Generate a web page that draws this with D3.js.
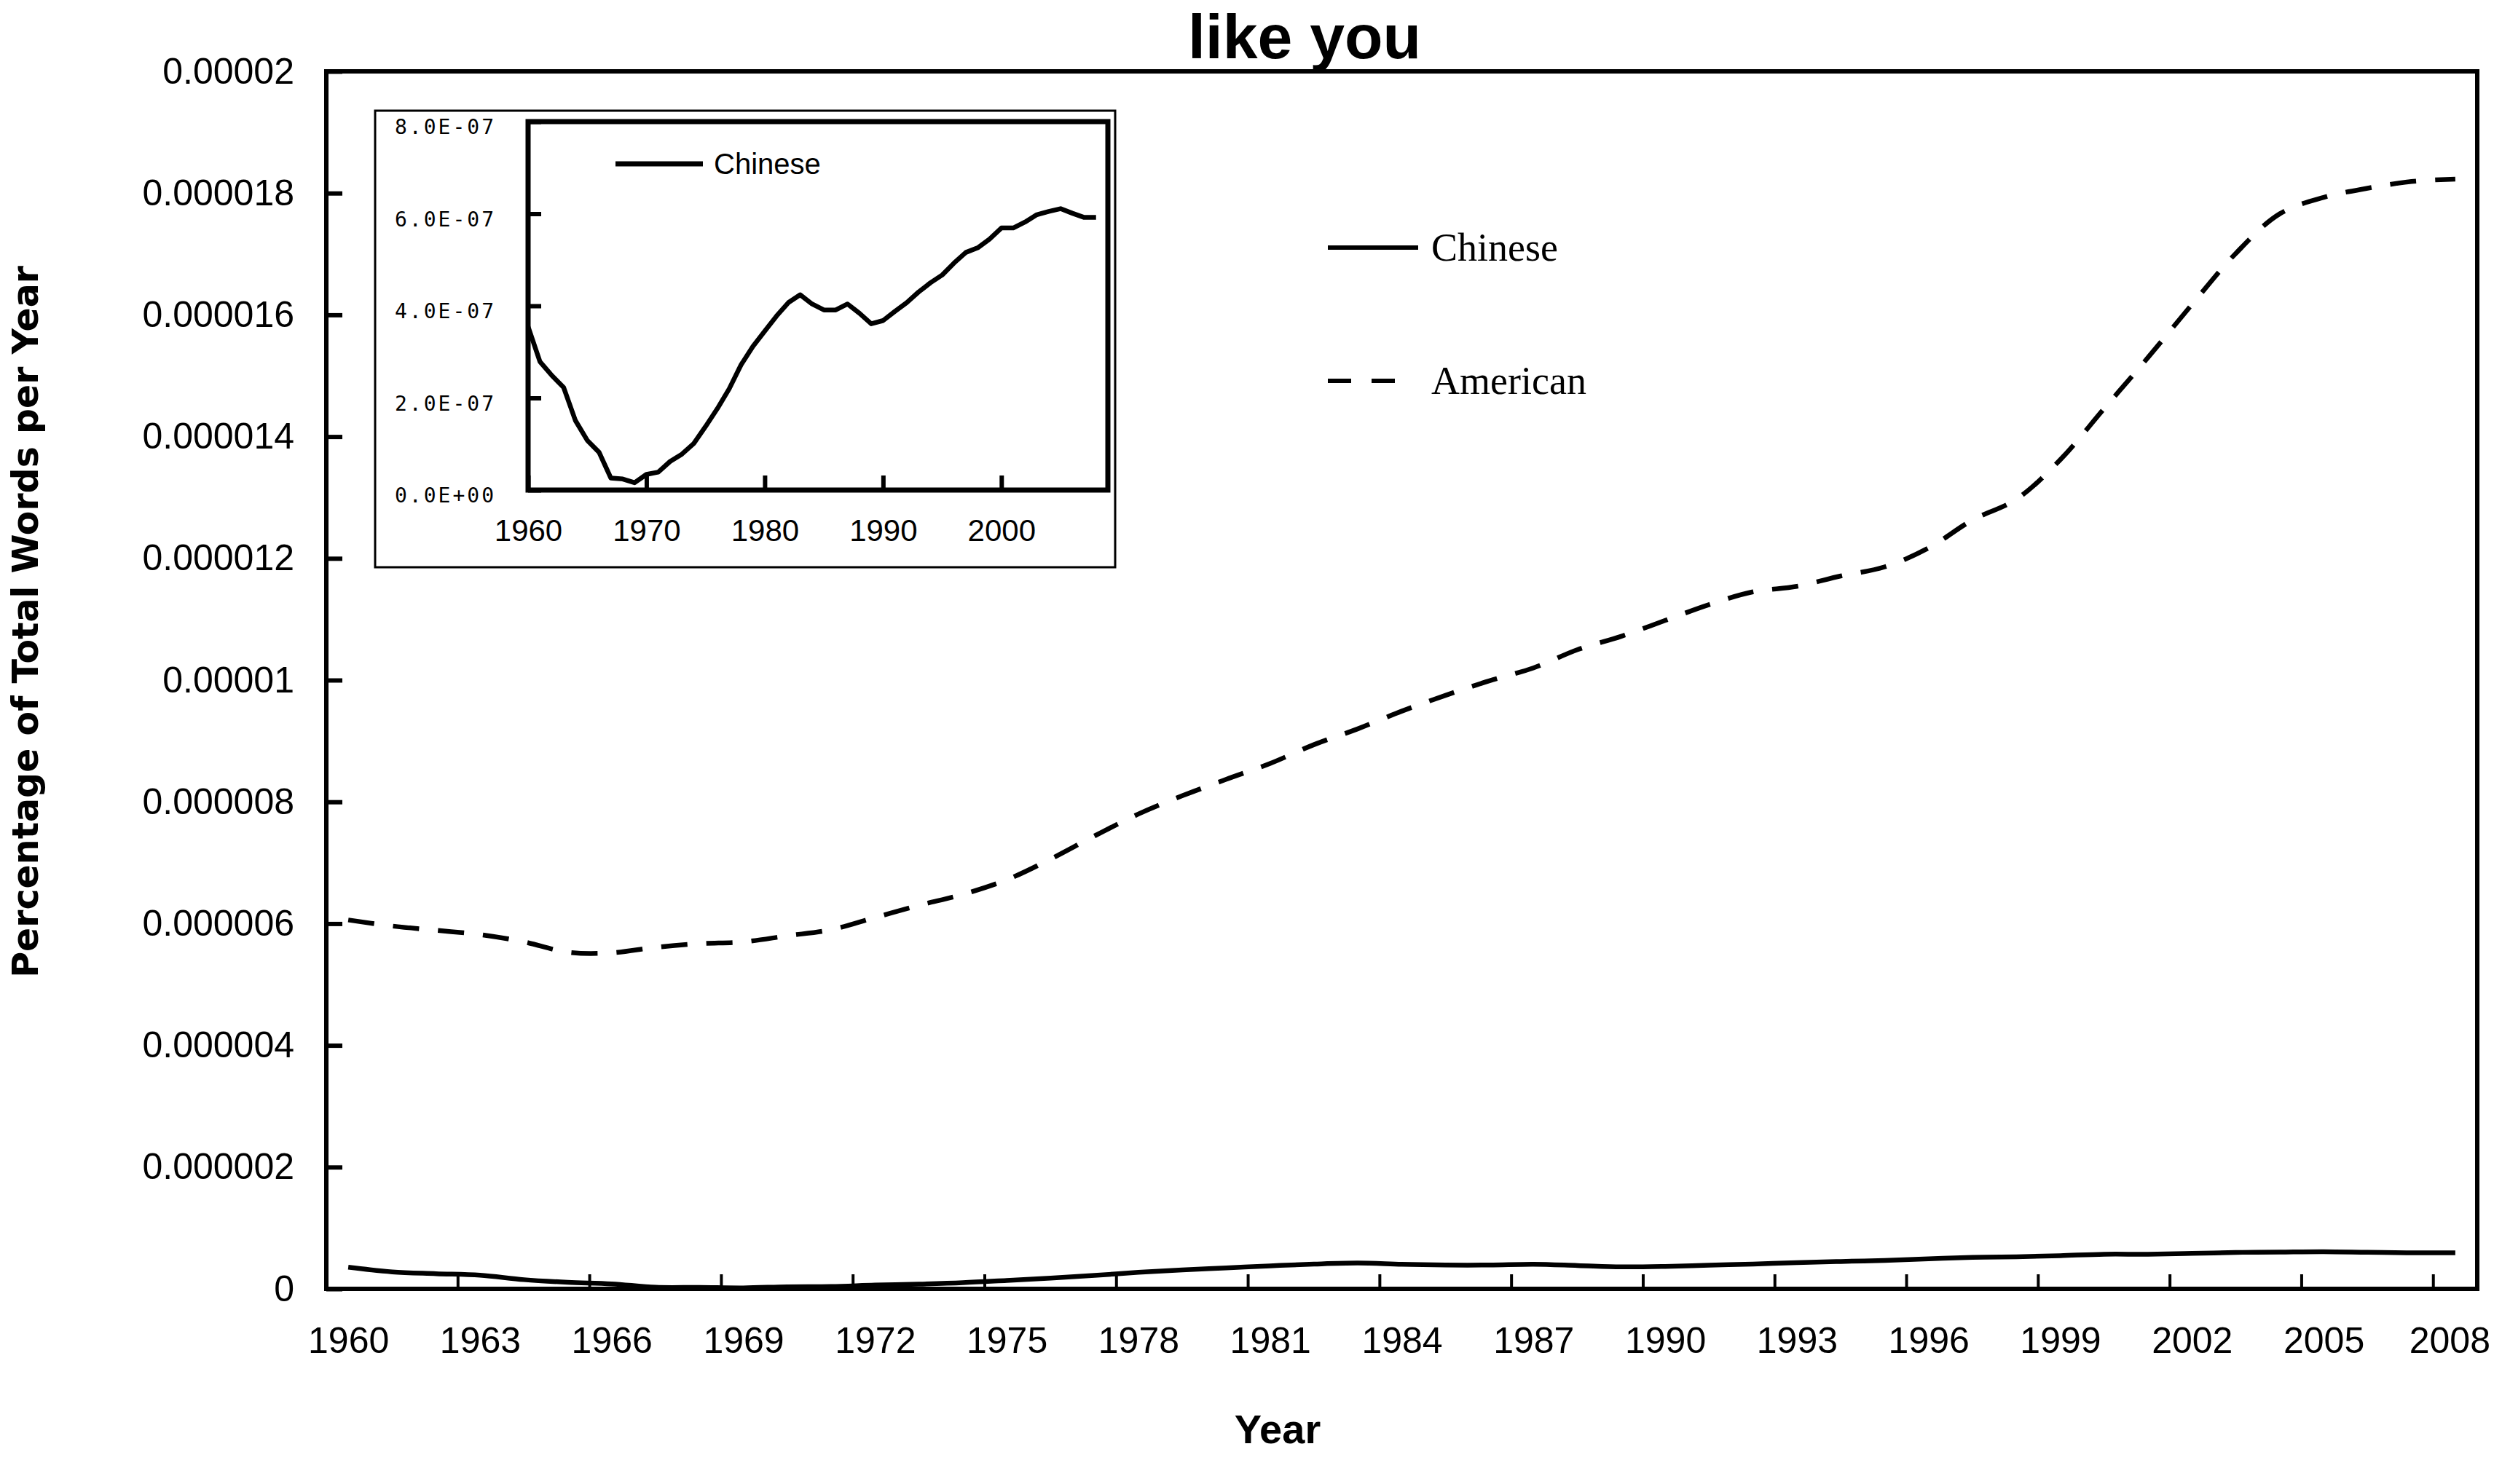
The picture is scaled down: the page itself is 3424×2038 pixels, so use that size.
<!DOCTYPE html>
<html>
<head>
<meta charset="utf-8">
<script src="https://cdn.jsdelivr.net/npm/d3@7"></script>
<style>
  html, body { margin: 0; padding: 0; background: #fff; }
  svg { display: block; }
</style>
</head>
<body>
<svg id="chart" width="3424" height="2038"></svg>
<script>
// ---------------- DATA ----------------
const years = [1960,1961,1962,1963,1964,1965,1966,1967,1968,1969,
               1970,1971,1972,1973,1974,1975,1976,1977,1978,1979,
               1980,1981,1982,1983,1984,1985,1986,1987,1988,1989,
               1990,1991,1992,1993,1994,1995,1996,1997,1998,1999,
               2000,2001,2002,2003,2004,2005,2006,2007,2008];

// Chinese (units of 1e-7)
const chineseE7 = [3.55,2.79,2.49,2.23,1.51,1.08,0.82,0.26,0.24,0.16,
                   0.34,0.39,0.62,0.78,1.01,1.38,1.77,2.20,2.72,3.12,
                   3.45,3.78,4.07,4.24,4.04,3.91,3.91,4.04,3.84,3.61,
                   3.68,3.88,4.07,4.30,4.50,4.67,4.93,5.16,5.26,5.45,
                   5.69,5.69,5.82,5.98,6.05,6.11,6.01,5.92,5.92];

// American (units of 1e-6)
const americanE6 = [6.06,5.96,5.89,5.82,5.70,5.53,5.52,5.61,5.67,5.70,
                    5.80,5.90,6.10,6.30,6.48,6.72,7.06,7.44,7.80,8.10,
                    8.37,8.63,8.94,9.20,9.49,9.75,9.99,10.20,10.50,10.72,
                    10.98,11.24,11.45,11.54,11.71,11.86,12.17,12.63,12.97,13.62,
                    14.46,15.30,16.17,17.01,17.66,17.93,18.08,18.19,18.23];

const yTickValues = [0,0.000002,0.000004,0.000006,0.000008,0.00001,0.000012,0.000014,0.000016,0.000018,0.00002];
const yTickLabels = ["0","0.000002","0.000004","0.000006","0.000008","0.00001","0.000012","0.000014","0.000016","0.000018","0.00002"];
const xLabelYears = [1960,1963,1966,1969,1972,1975,1978,1981,1984,1987,1990,1993,1996,1999,2002,2005,2008];

const insetYTicks = [0,2e-7,4e-7,6e-7,8e-7];
const insetYLabels = ["0.0E+00","2.0E-07","4.0E-07","6.0E-07","8.0E-07"];
const insetXTicks = [1960,1970,1980,1990,2000];

const seriesNames = ["Chinese","American"];
const titleText = "like you";
const yAxisTitle = "Percentage of Total Words per Year";
const xAxisTitle = "Year";

// ---------------- BUILD ----------------
const chinese = years.map((y,i)=>({year:y, v: chineseE7[i]*1e-7}));
const american = years.map((y,i)=>({year:y, v: americanE6[i]*1e-6}));

const svg = d3.select("#chart");
svg.append("rect").attr("width",3424).attr("height",2038).attr("fill","#fff");

const L = 448, R = 3401, T = 98, B = 1770;
const sans = "'Liberation Sans', Arial, sans-serif";

const x = d3.scaleBand().domain(years).range([L, R]).paddingInner(0).paddingOuter(0);
const xc = d => x(d) + x.bandwidth()/2;
const y = d3.scaleLinear().domain([0, 0.00002]).range([B, T]);

// title
svg.append("text").attr("x", 1791).attr("y", 80).attr("text-anchor","middle")
  .attr("font-family", sans).attr("font-weight","bold").attr("font-size", 86)
  .text(titleText);

// y axis
const yAxis = d3.axisLeft(y).tickValues(yTickValues)
  .tickFormat((d,i)=>yTickLabels[i]).tickSize(-22).tickPadding(44);
const gy = svg.append("g").attr("transform",`translate(${L},0)`).call(yAxis);
gy.select(".domain").remove();
gy.selectAll(".tick line").attr("stroke","#000").attr("stroke-width",6);
gy.selectAll(".tick text").attr("font-family", sans).attr("font-size", 50).attr("fill","#000");

// x axis labels (at category centres)
const xAxis = d3.axisBottom(d3.scalePoint().domain(years).range([xc(1960), xc(2008)]))
  .tickValues(xLabelYears).tickSize(0).tickPadding(52);
const gx = svg.append("g").attr("transform",`translate(0,${B})`).call(xAxis);
gx.select(".domain").remove();
gx.selectAll(".tick text").attr("font-family", sans).attr("font-size", 50).attr("fill","#000")
  .attr("dx", d => d === 2008 ? -8 : 0);

// x tick marks between categories
svg.append("g").selectAll("line").data(xLabelYears).join("line")
  .attr("x1", d=>x(d)).attr("x2", d=>x(d)).attr("y1", B).attr("y2", B-20)
  .attr("stroke","#000").attr("stroke-width",4);

// axis titles
svg.append("text").attr("transform",`translate(52,854) rotate(-90)`).attr("text-anchor","middle")
  .attr("font-family","'DejaVu Sans', Verdana, sans-serif").attr("font-weight","bold").attr("font-size",49)
  .text(yAxisTitle);
svg.append("text").attr("x",1754).attr("y",1982).attr("text-anchor","middle")
  .attr("font-family", sans).attr("font-weight","bold").attr("font-size",56)
  .text(xAxisTitle);

// lines
const line = d3.line().x(d=>xc(d.year)).y(d=>y(d.v)).curve(d3.curveCatmullRom.alpha(0.5));
svg.append("path").datum(american).attr("d", line).attr("fill","none")
  .attr("stroke","#000").attr("stroke-width",6.5).attr("stroke-dasharray","36,26");
svg.append("path").datum(chinese).attr("d", line).attr("fill","none")
  .attr("stroke","#000").attr("stroke-width",6.5);

// plot border
svg.append("rect").attr("x",L).attr("y",T).attr("width",R-L).attr("height",B-T)
  .attr("fill","none").attr("stroke","#000").attr("stroke-width",6);

// legend
const serif = "'Liberation Serif', 'Times New Roman', serif";
svg.append("line").attr("x1",1823).attr("x2",1947).attr("y1",340).attr("y2",340)
  .attr("stroke","#000").attr("stroke-width",6);
svg.append("text").attr("x",1965).attr("y",358).attr("font-family",serif).attr("font-size",54).text(seriesNames[0]);
svg.append("line").attr("x1",1823).attr("x2",1917).attr("y1",523).attr("y2",523)
  .attr("stroke","#000").attr("stroke-width",6).attr("stroke-dasharray","32,28");
svg.append("text").attr("x",1965).attr("y",541).attr("font-family",serif).attr("font-size",54).text(seriesNames[1]);

// ---------------- INSET ----------------
const iL = 725, iR = 1521, iT = 167, iB = 673;
svg.append("rect").attr("x",515).attr("y",152).attr("width",1016).attr("height",627)
  .attr("fill","#fff").attr("stroke","#000").attr("stroke-width",3);

const ix = d3.scaleLinear().domain([1960, 2009]).range([iL, iR]);
const iy = d3.scaleLinear().domain([0, 8e-7]).range([iB, iT]);

const iyAxis = d3.axisLeft(iy).tickValues(insetYTicks).tickFormat((d,i)=>insetYLabels[i])
  .tickSize(-18).tickPadding(44);
const giy = svg.append("g").attr("transform",`translate(${iL},0)`).call(iyAxis);
giy.select(".domain").remove();
giy.selectAll(".tick line").attr("stroke","#000").attr("stroke-width",6);
giy.selectAll(".tick text").attr("font-family","'DejaVu Sans Mono', monospace").attr("font-size",28)
  .attr("letter-spacing",3).attr("dy","0.6em").attr("fill","#000");

const ixAxis = d3.axisBottom(ix).tickValues(insetXTicks).tickFormat(d3.format("d"))
  .tickSize(-20).tickPadding(40);
const gix = svg.append("g").attr("transform",`translate(0,${iB})`).call(ixAxis);
gix.select(".domain").remove();
gix.selectAll(".tick line").attr("stroke","#000").attr("stroke-width",6);
gix.selectAll(".tick text").attr("font-family", sans).attr("font-size",42).attr("fill","#000");

const iline = d3.line().x(d=>ix(d.year)).y(d=>iy(d.v));
svg.append("path").datum(chinese).attr("d", iline).attr("fill","none")
  .attr("stroke","#000").attr("stroke-width",6.5).attr("stroke-linejoin","round");

svg.append("rect").attr("x",iL).attr("y",iT).attr("width",iR-iL).attr("height",iB-iT)
  .attr("fill","none").attr("stroke","#000").attr("stroke-width",7);

svg.append("line").attr("x1",845).attr("x2",965).attr("y1",225).attr("y2",225)
  .attr("stroke","#000").attr("stroke-width",7);
svg.append("text").attr("x",980).attr("y",239).attr("font-family",sans).attr("font-size",40).text(seriesNames[0]);
</script>
</body>
</html>
